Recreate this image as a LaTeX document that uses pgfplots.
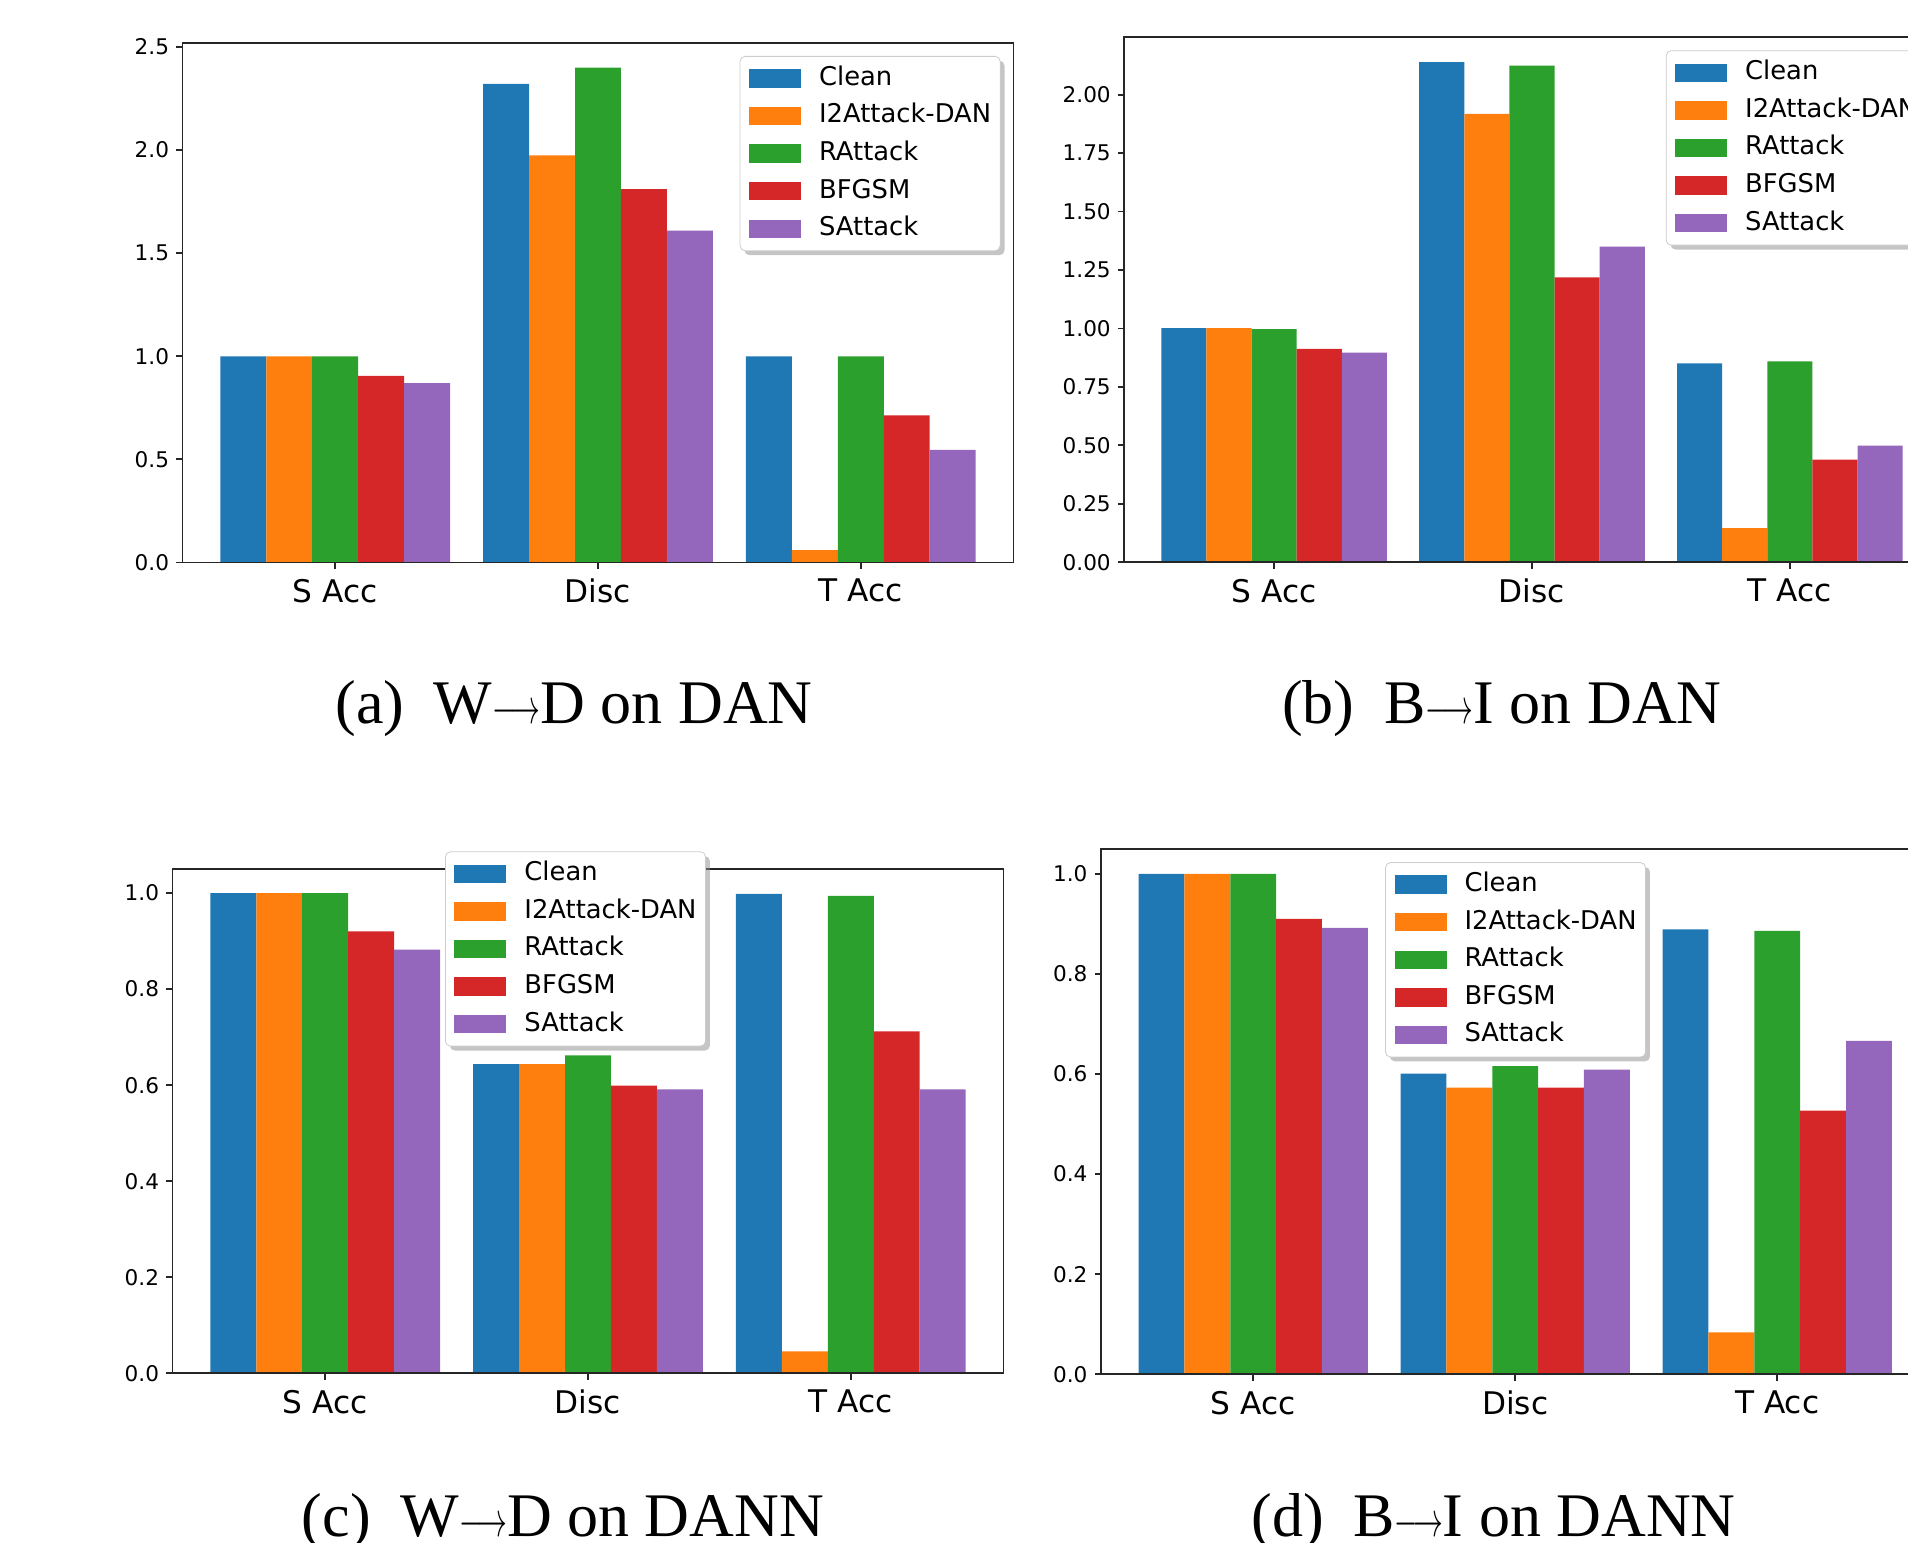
\documentclass[border=0pt]{standalone}
\usepackage{fontspec}
\setmainfont{Liberation Serif}
\newfontfamily\dejavu{DejaVu Sans}
\usepackage{graphicx}
\usepackage{pgfplots}
\pgfplotsset{compat=1.18}
\usepackage{pgfplotstable}
\usetikzlibrary{shadows}

\makeatletter
\tikzset{no preactions/.code={\let\tikz@preactions\pgfutil@empty}}
\makeatother

\definecolor{c0}{HTML}{1F77B4}
\definecolor{c1}{HTML}{FF7F0E}
\definecolor{c2}{HTML}{2CA02C}
\definecolor{c3}{HTML}{D62728}
\definecolor{c4}{HTML}{9467BD}

% x: 0 = S Acc, 1 = Disc, 2 = T Acc
\pgfplotstableread{
x clean i2 rat bfgsm sat
0 1.000 1.000 1.000 0.905 0.870
1 2.321 1.974 2.399 1.810 1.609
2 1.000 0.060 1.000 0.713 0.546
}\tblA
\pgfplotstableread{
x clean i2 rat bfgsm sat
0 1.002 1.002 0.997 0.913 0.897
1 2.139 1.918 2.124 1.219 1.350
2 0.851 0.146 0.859 0.439 0.499
}\tblB
\pgfplotstableread{
x clean i2 rat bfgsm sat
0 1.000 1.000 1.000 0.920 0.882
1 0.644 0.644 0.662 0.599 0.591
2 0.998 0.046 0.994 0.712 0.591
}\tblC
\pgfplotstableread{
x clean i2 rat bfgsm sat
0 1.000 1.000 1.000 0.910 0.892
1 0.601 0.573 0.616 0.573 0.609
2 0.889 0.084 0.886 0.527 0.666
}\tblD

\pgfplotsset{
  panel/.style={
    scale only axis, anchor=south west,
    ybar, bar width=0.175,
    xmin=-0.58125, xmax=2.58125, ymin=0,
    xtick={0,1,2}, xticklabels={S Acc,Disc,T Acc},
    tick align=outside, tick pos=left,
    major tick length=3.2pt,
    axis line style={black!85, line width=0.9pt},
    tick style={black!85, line width=0.9pt},
    axis on top,
    xticklabel style={font=\dejavu\fontsize{15.6}{18}\selectfont, yshift=-1.6pt},
    yticklabel style={font=\dejavu\fontsize{10.8}{12}\selectfont},
    /pgf/number format/assume math mode=true,
    legend cell align=left,
    legend image code/.code={\draw[##1, draw=none, sharp corners, no preactions] (0pt,-4.6pt) rectangle (26pt,4.6pt);},
    legend style={anchor=north west, draw=black!20, fill=white, rounded corners=2.5pt,
      drop shadow={shadow xshift=2.2pt, shadow yshift=-2.2pt, fill=black!45},
      inner xsep=4.5pt, inner ysep=5pt,
      font=\dejavu\fontsize{12.9}{15}\selectfont,
      row sep=6.8pt, column sep=9pt,
      nodes={inner sep=0pt, text height=9.5pt, text depth=2.5pt}},
  },
  onedec/.style={yticklabel style={/pgf/number format/.cd, fixed, fixed zerofill, precision=1}},
  twodec/.style={yticklabel style={/pgf/number format/.cd, fixed, fixed zerofill, precision=2}},
}

\newcommand{\bars}[1]{%
  \addplot[fill=c0, draw=none, bar shift=-0.35] table[x=x,y=clean]{#1};
  \addplot[fill=c1, draw=none, bar shift=-0.175] table[x=x,y=i2]{#1};
  \addplot[fill=c2, draw=none, bar shift=0] table[x=x,y=rat]{#1};
  \addplot[fill=c3, draw=none, bar shift=0.175] table[x=x,y=bfgsm]{#1};
  \addplot[fill=c4, draw=none, bar shift=0.35] table[x=x,y=sat]{#1};
  \legend{Clean,I2Attack-DAN,RAttack,BFGSM,SAttack}
}
\newcommand{\arr}{\mathrel{\scalebox{0.6}[1]{$\longrightarrow$}}}

\begin{document}
\begin{tikzpicture}
\useasboundingbox (0pt,0pt) rectangle (954pt,771.5pt);
\clip (0pt,0pt) rectangle (954pt,771.5pt);

\begin{axis}[panel, onedec, at={(91.25pt,490.25pt)}, width=415.5pt, height=259.75pt,
  ymax=2.519, ytick={0,0.5,1,1.5,2,2.5},
  legend style={at={(0.6705,0.975)}}]
\bars{\tblA}
\end{axis}

\begin{axis}[panel, twodec, at={(562.1pt,490.35pt)}, width=407.8pt, height=262.55pt,
  ymax=2.246, ytick={0,0.25,0.5,0.75,1,1.25,1.5,1.75,2},
  legend style={at={(0.664,0.975)}}]
\bars{\tblB}
\end{axis}

\begin{axis}[panel, onedec, at={(86.25pt,84.8pt)}, width=415.5pt, height=252.2pt,
  ymax=1.05, ytick={0,0.2,0.4,0.6,0.8,1},
  legend style={at={(0.328,1.035)}}]
\bars{\tblC}
\end{axis}

\begin{axis}[panel, onedec, at={(550.45pt,84.35pt)}, width=414.3pt, height=262.75pt,
  ymax=1.05, ytick={0,0.2,0.4,0.6,0.8,1},
  legend style={at={(0.343,0.9745)}}]
\bars{\tblD}
\end{axis}

\begin{scope}[every node/.style={font=\fontsize{31}{36}\selectfont, anchor=base, inner sep=0pt}]
\node at (287pt,409.9pt) {(a)\hspace{0.48em}W$\arr$D on DAN};
\node at (751pt,409.9pt) {(b)\hspace{0.48em}B$\arr$I on DAN};
\node at (281.5pt,3pt) {(c)\hspace{0.48em}W$\arr$D on DANN};
\node at (746.8pt,3pt) {(d)\hspace{0.48em}B$\arr$I on DANN};
\end{scope}
\end{tikzpicture}
\end{document}
